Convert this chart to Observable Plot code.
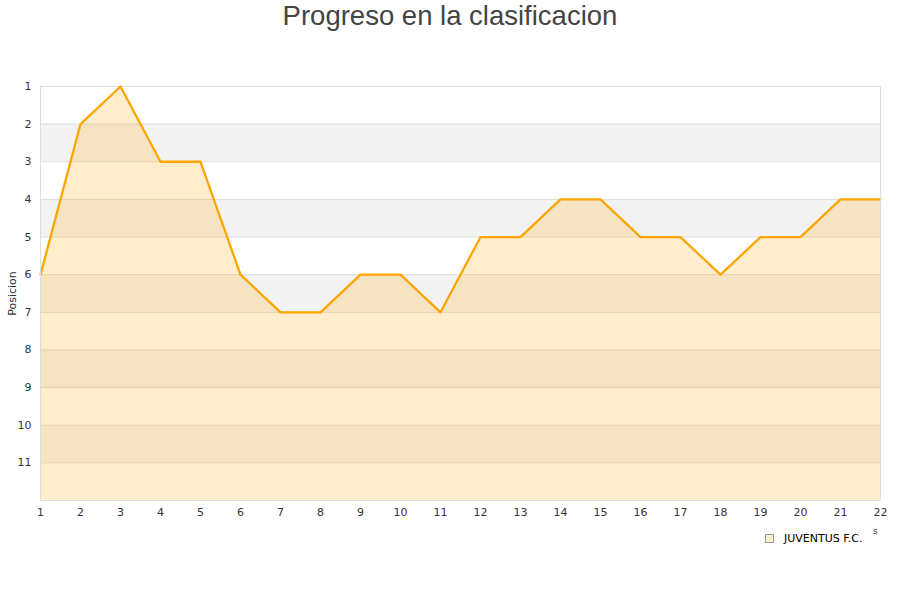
<!DOCTYPE html>
<html><head><meta charset="utf-8">
<script src="https://cdn.jsdelivr.net/npm/d3@7"></script>
<script src="https://cdn.jsdelivr.net/npm/@observablehq/plot@0.6"></script>
<style>
body{margin:0;background:#fff;}
#wrap{position:relative;width:900px;height:600px;overflow:hidden;font-family:"DejaVu Sans",sans-serif;}
#title{position:absolute;left:0;top:0;width:900px;text-align:center;font-family:"Liberation Sans",Arial,sans-serif;font-size:27.5px;color:#444;line-height:32px;}
#legend{position:absolute;left:765px;top:532px;font-size:11px;color:#000;display:flex;align-items:center;}
#legend .sw{width:7px;height:7px;border:1px solid #999;background:#ffedcc;margin-right:10px;}
#xs{position:absolute;left:873px;top:526px;font-size:9px;color:#333;}
#plot{position:absolute;left:0;top:0;}
</style></head>
<body><div id="wrap">
<div id="plot"></div>
<div id="title">Progreso en la clasificacion</div>
<div id="legend"><div class="sw"></div><span>JUVENTUS F.C.</span></div>
<div id="xs">s</div>
</div>
<script>
const team = "JUVENTUS F.C.";
const jornadas = [1,2,3,4,5,6,7,8,9,10,11,12,13,14,15,16,17,18,19,20,21,22];
const posiciones = [6,2,1,3,3,6,7,7,6,6,7,5,5,4,4,5,5,6,5,5,4,4];
const yTicks = [1,2,3,4,5,6,7,8,9,10,11];
const grayBandStarts = [2,4,6,8,10];
const gridLines = [1,2,3,4,5,6,7,8,9,10,11,12];
const bottomPos = 12;

const data = jornadas.map((j,i)=>({j, p: posiciones[i]}));
const bands = grayBandStarts.map(s=>({y1:s, y2:s+1}));

const chart = Plot.plot({
  width: 900, height: 600,
  marginLeft: 40, marginRight: 20, marginTop: 86, marginBottom: 100,
  style: {fontFamily: '"DejaVu Sans",sans-serif', fontSize: "11px", color: "#333", background: "transparent"},
  x: {domain: [1,22], ticks: jornadas, tickSize: 0, tickPadding: 8, tickFormat: d=>String(d), label: null},
  y: {domain: [1,12], reverse: true, ticks: yTicks, tickSize: 0, tickPadding: 9, label: "Posicion", labelAnchor: "center", labelOffset: 32, labelArrow: "none"},
  marks: [
    Plot.rect(bands, {x1: 1, x2: 22, y1: "y1", y2: "y2", fill: "#f3f3f3"}),
    Plot.ruleY(gridLines, {stroke: "#dddddd", strokeWidth: 1}),
    Plot.areaY(data, {x: "j", y1: bottomPos, y2: "p", fill: "#ffa500", fillOpacity: 0.2}),
    Plot.lineY(data, {x: "j", y: "p", stroke: "#ffa500", strokeWidth: 2.3, strokeLinejoin: "round"}),
    Plot.ruleX([1,22], {stroke: "#dddddd", strokeWidth: 1}),
    Plot.axisX({ticks: jornadas, tickSize: 0, tickPadding: 8, tickFormat: d=>String(d), label: null}),
    Plot.axisY({ticks: yTicks, tickSize: 0, tickPadding: 9, label: "Posicion", labelAnchor: "center", labelOffset: 32, labelArrow: "none"})
  ]
});
document.getElementById("plot").appendChild(chart);
</script>
</body></html>
